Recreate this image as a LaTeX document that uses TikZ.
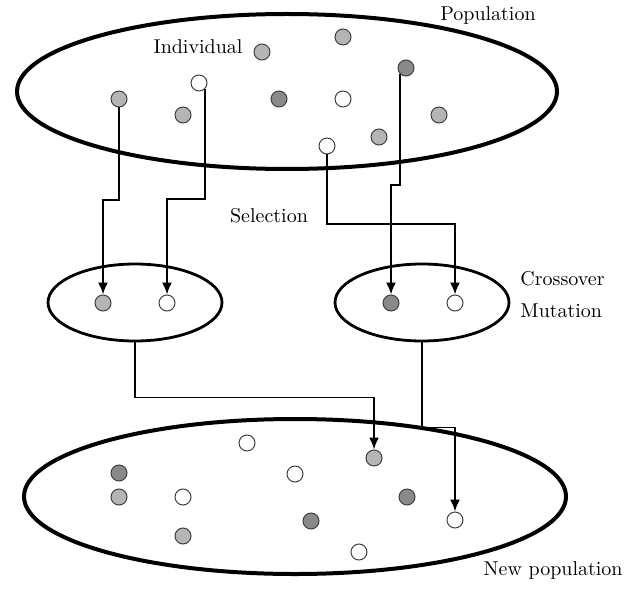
\documentclass[tikz,border=0pt]{standalone}
\usetikzlibrary{shapes.geometric,arrows.meta}
\definecolor{lightdot}{gray}{0.71}
\definecolor{darkdot}{gray}{0.54}
\begin{document}
\begin{tikzpicture}[x=0.5pt,y=-0.5pt,
    pool/.style={draw,ellipse,inner sep=0pt,line width=2pt},
    pair/.style={draw,ellipse,inner sep=0pt,line width=1.4pt,minimum width=87pt,minimum height=38.5pt},
    ind/.style={draw=black!75,circle,line width=0.5pt,inner sep=0pt,minimum size=8pt},
    link/.style={line width=0.9pt},
    flow/.style={link,-{Latex[length=6pt,width=5pt]}}]
    \useasboundingbox (0,0) rectangle (625,588);

    % Populations
    \node[pool,minimum width=270pt,minimum height=77.5pt] (pop) at (287,91.5) {};
    \node[pool,minimum width=271pt,minimum height=77.5pt] (newpop) at (295,496.5) {};
    \node[pair] (lsel) at (135,302.5) {};
    \node[pair] (rsel) at (422,302.5) {};

    % Individuals of the population
    \foreach \n/\x/\y/\c in {p1/262/52/lightdot, p2/343/37/lightdot, p3/406/68/darkdot,
        p4/199/83/white, p5/119/99/lightdot, p6/183/115/lightdot, p7/279/99/darkdot,
        p8/343/99/white, p9/439/115/lightdot, p10/379/137/lightdot, p11/327/146/white}
        \node[ind,fill=\c] (\n) at (\x,\y) {};

    % Selected pairs
    \node[ind,fill=lightdot] (s1) at (103,303) {};
    \node[ind,fill=white] (s2) at (167,303) {};
    \node[ind,fill=darkdot] (s3) at (391,303) {};
    \node[ind,fill=white] (s4) at (455,303) {};

    % Individuals of the new population
    \foreach \n/\x/\y/\c in {n1/247/443/white, n2/374/458/lightdot, n3/119/473/darkdot,
        n4/295/474/white, n5/119/497/lightdot, n6/183/497/white, n7/407/497/darkdot,
        n8/311/521/darkdot, n9/455/520/white, n10/183/536/lightdot, n11/359/552/white}
        \node[ind,fill=\c] (\n) at (\x,\y) {};

    % Selection
    \draw[flow] (p5) -- (p5 |- 0,200) -| (s1);
    \draw[flow] (p4.south east) -- ++(0,110) -| (s2);
    \draw[flow] (p3.south west) -- ++(0,111) -| (s3);
    \draw[flow] (p11) -- (p11 |- 0,224) -| (s4);

    % Into the new population
    \draw[flow] (lsel.south) -- ++(0,55) -| (n2);
    \draw[flow] (rsel.south) -- ++(0,85) -| (n9);

    % Labels
    \node[inner sep=0pt] (poplabel) at (488,16) {Population};
    \node[inner sep=0pt] (indlabel) at (198,47) {Individual};
    \node[inner sep=0pt] (sellabel) at (269,216) {Selection};
    \node[inner sep=0pt,anchor=west] (xlabel) at (520,279) {Crossover};
    \node[inner sep=0pt,anchor=west] (mlabel) at (520,311) {Mutation};
    \node[inner sep=0pt,anchor=east] (newlabel) at (623,570) {New population};
\end{tikzpicture}
\end{document}
